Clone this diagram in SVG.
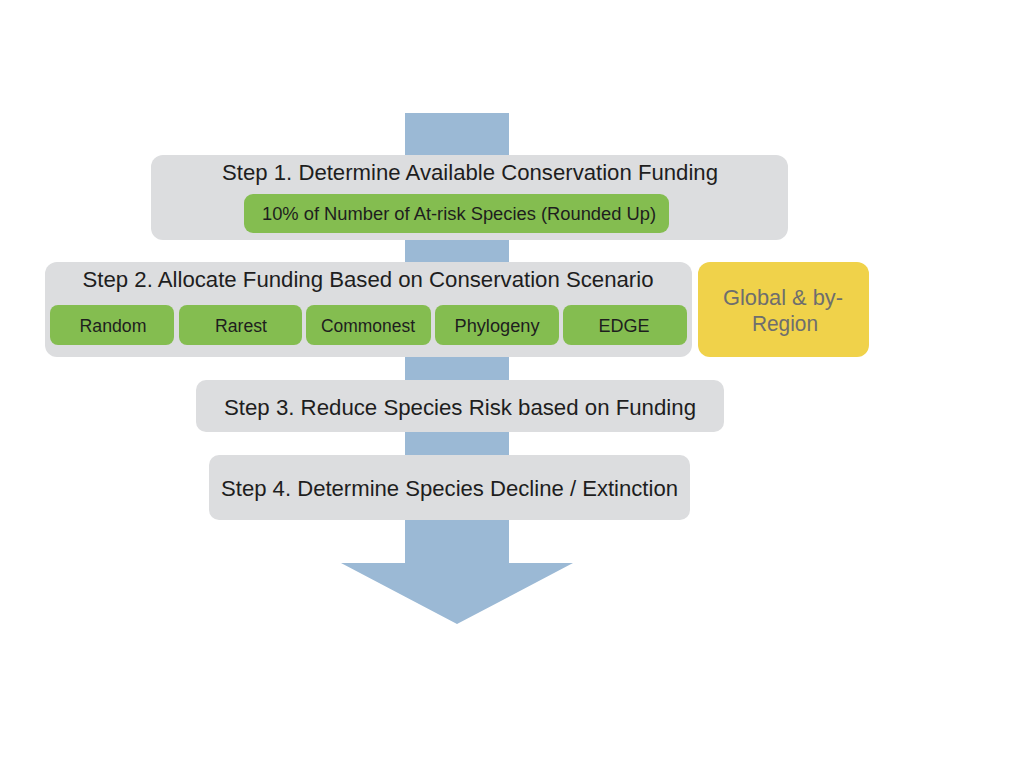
<svg xmlns="http://www.w3.org/2000/svg" width="1024" height="768" viewBox="0 0 1024 768">
<style>
.box{fill:#dcdddf}
.g{fill:#84bd50}
.t{font-family:"Liberation Sans",Arial,sans-serif;font-size:22px;fill:#1e1e1e;text-anchor:middle}
.s{font-family:"Liberation Sans",Arial,sans-serif;font-size:17.5px;fill:#1e1e1e;text-anchor:middle}
.y{font-family:"Liberation Sans",Arial,sans-serif;font-size:22px;fill:#6e6e6e;text-anchor:middle}
</style>
<rect width="1024" height="768" fill="#ffffff"/>
<g id="connectors">
<polygon points="405,113 509,113 509,563 573,563 457,624 341,563 405,563" fill="#9bb9d5"/>
</g>
<g id="step1">
<rect class="box" x="151" y="155" width="637" height="85" rx="12"/>
<text class="t" x="470" y="180" textLength="496" lengthAdjust="spacingAndGlyphs">Step 1. Determine Available Conservation Funding</text>
<rect class="g" x="244" y="194" width="425" height="39" rx="9"/>
<text class="s" x="459" y="220" textLength="394" lengthAdjust="spacingAndGlyphs">10% of Number of At-risk Species (Rounded Up)</text>
</g>
<g id="step2">
<rect class="box" x="45" y="262" width="647" height="95" rx="12"/>
<text class="t" x="368" y="287" textLength="571" lengthAdjust="spacingAndGlyphs">Step 2. Allocate Funding Based on Conservation Scenario</text>
<g id="random"><rect class="g" x="50" y="305" width="124" height="40" rx="8"/><text class="s" x="113" y="332" textLength="67" lengthAdjust="spacingAndGlyphs">Random</text></g>
<g id="rarest"><rect class="g" x="179" y="305" width="123" height="40" rx="8"/><text class="s" x="241" y="332" textLength="52" lengthAdjust="spacingAndGlyphs">Rarest</text></g>
<g id="commonest"><rect class="g" x="306" y="305" width="125" height="40" rx="8"/><text class="s" x="368" y="332" textLength="94" lengthAdjust="spacingAndGlyphs">Commonest</text></g>
<g id="phylogeny"><rect class="g" x="435" y="305" width="124" height="40" rx="8"/><text class="s" x="497" y="332" textLength="85" lengthAdjust="spacingAndGlyphs">Phylogeny</text></g>
<g id="edge"><rect class="g" x="563" y="305" width="124" height="40" rx="8"/><text class="s" x="624" y="332" textLength="51" lengthAdjust="spacingAndGlyphs">EDGE</text></g>
</g>
<g id="region">
<rect x="698" y="262" width="171" height="95" rx="12" fill="#f0d24a"/>
<text class="y" x="783" y="305" textLength="120" lengthAdjust="spacingAndGlyphs">Global &amp; by-</text>
<text class="y" x="785" y="331" textLength="66" lengthAdjust="spacingAndGlyphs">Region</text>
</g>
<g id="step3">
<rect class="box" x="196" y="380" width="528" height="52" rx="10"/>
<text class="t" x="460" y="415" textLength="472" lengthAdjust="spacingAndGlyphs">Step 3. Reduce Species Risk based on Funding</text>
</g>
<g id="step4">
<rect class="box" x="209" y="455" width="481" height="65" rx="10"/>
<text class="t" x="449.5" y="496" textLength="457" lengthAdjust="spacingAndGlyphs">Step 4. Determine Species Decline / Extinction</text>
</g>
</svg>
